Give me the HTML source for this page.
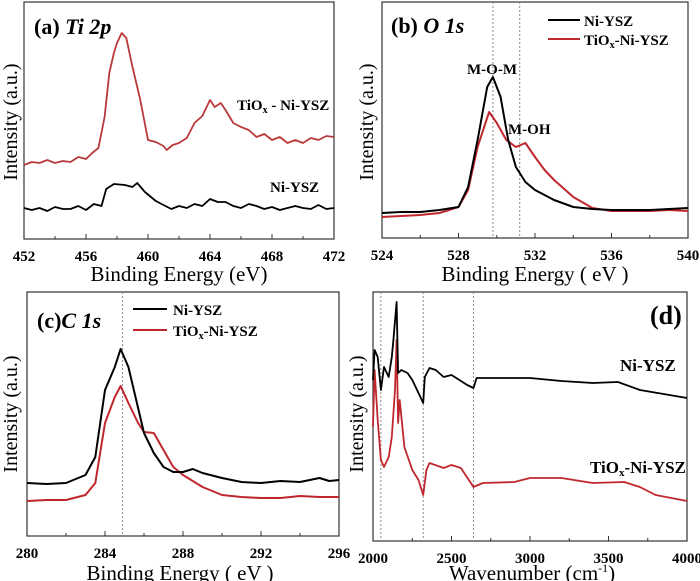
<!DOCTYPE html>
<html><head><meta charset="utf-8">
<style>
html,body{margin:0;padding:0;background:#fff;}
svg{display:block;font-family:"Liberation Serif",serif;}
.tk{font-weight:bold;font-size:15px;}
.ttl{font-size:21px;}
.yt{font-size:20px;}
.lbl{font-weight:bold;font-size:15px;}
</style></head>
<body>
<svg id="fig" width="700" height="581" viewBox="0 0 700 581"></svg>
<script>
// Panel (a) Ti 2p
const aRedX=[452,452.5,453,453.5,454,454.5,455,455.5,456,456.4,456.8,457.2,457.5,457.8,458.0,458.3,458.6,459.0,459.5,460,460.5,461,461.2,461.6,462,462.5,463,463.5,464,464.3,464.7,465,465.5,466,466.5,467,467.5,468,468.5,469,469.5,470,470.5,471,471.5,472];
const aRedY=[74,77,76,79,76,78,77,82,80,86,91,122,166,186,196,206,201,172,139,99,97,93,89,94,96,101,116,123,139,132,136,129,116,112,109,102,105,99,102,96,99,96,101,99,103,102];
const aBlkX=[452,452.5,453,453.5,454,454.5,455,455.5,456,456.5,457,457.3,457.8,458.5,459,459.3,459.8,460.5,461,461.5,462,462.5,463,463.5,464,464.5,465,465.5,466,466.5,467,467.5,468,468.5,469,469.5,470,470.5,471,471.5,472];
const aBlkY=[31,29,31,28,32,30,30,33,29,35,33,50,55,54,52,56,47,38,34,30,33,31,35,33,40,37,37,33,31,35,33,30,32,29,31,33,31,30,34,30,31];
// Panel (b) O 1s
const bBlkX=[524,525,526,527,528,528.5,529,529.5,529.8,530.2,530.6,531,531.5,532,533,534,535,536,537,538,539,540];
const bBlkY=[25,26,26,28,31,51,98,151,161,141,98,71,56,48,38,31,29,28,28,28,29,30];
const bRedX=[524,525,526,527,528,528.5,529,529.6,530,530.5,531,531.5,532,532.5,533,534,535,536,537,538,539,540];
const bRedY=[21,22,23,25,31,48,91,126,115,98,91,95,81,68,58,41,30,27,27,27,28,27];
// Panel (c) C 1s
const cBlkX=[280,281,282,283,283.5,284,284.5,284.8,285.2,285.6,286,286.5,287,287.5,288,288.5,289,290,291,292,293,294,295,295.5,296];
const cBlkY=[53,52,53,61,79,146,169,187,169,136,103,83,69,64,64,67,63,58,54,53,55,54,58,55,56];
const cRedX=[280,281,282,283,283.5,284,284.5,284.8,285.2,285.7,286,286.5,287,287.5,288,289,290,291,292,293,294,295,296];
const cRedY=[35,36,36,41,53,113,139,150,133,113,104,103,86,69,61,49,41,39,38,38,40,39,39];
// Panel (d) IR
const dBlkX=[2000,2010,2030,2050,2070,2100,2120,2130,2150,2160,2180,2220,2250,2290,2320,2330,2360,2400,2450,2500,2550,2600,2640,2660,2800,3000,3200,3400,3560,3700,3850,4000];
const dBlkY=[161,191,184,151,174,164,184,201,239,168,171,168,161,148,138,164,173,171,164,166,161,156,153,163,163,163,160,158,159,151,147,143];
const dRedX=[2000,2010,2030,2050,2070,2100,2120,2140,2150,2160,2170,2200,2250,2290,2320,2340,2360,2450,2500,2560,2640,2700,2900,3000,3200,3400,3600,3700,3800,3900,4000];
const dRedY=[114,171,121,81,74,84,104,151,201,118,141,94,71,61,46,71,78,73,76,73,54,58,59,63,63,58,59,54,46,43,40];
const aTicks=[452,456,460,464,468,472], bTicks=[524,528,532,536,540], cTicks=[280,284,288,292,296], dTicks=[2000,2500,3000,3500,4000];

const NS="http://www.w3.org/2000/svg";
const svg=document.getElementById('fig');
function mk(tag,attrs,parent){const e=document.createElementNS(NS,tag);for(const k in attrs)e.setAttribute(k,attrs[k]);(parent||svg).appendChild(e);return e;}
function txt(s,attrs,cls,parent){const e=mk('text',attrs,parent);if(cls)e.setAttribute('class',cls);e.innerHTML=s;return e;}

function panel(id,L,R,T,B,x0,x1,ticks,minorStep,yMax){
  const g=mk('g',{});
  
  
  const sx=v=>L+(v-x0)/(x1-x0)*(R-L);
  const sy=v=>B-v/yMax*(B-T);
  const fr=mk('rect',{x:L,y:T,width:R-L,height:B-T,fill:'none',stroke:'#333','stroke-width':1.2},g);
  
  
  for(let v=x0;v<=x1+1e-9;v+=minorStep){
    const major=ticks.some(t=>Math.abs(t-v)<1e-6);
    mk('line',{x1:sx(v),x2:sx(v),y1:B,y2:B-(major?5:3),stroke:'#333','stroke-width':1},g);
  }
  ticks.forEach(t=>{
    const e=txt(String(t),{x:sx(t),y:B+22,'text-anchor':'middle'},'tk',g);
    
    
  });
  return {g,sx,sy};
}
function line(p,xs,ys,color,name,w){
  const d=xs.map((x,i)=>(i?'L':'M')+p.sx(x).toFixed(1)+' '+p.sy(ys[i]).toFixed(1)).join(' ');
  const e=mk('path',{d:d,fill:'none',stroke:color,'stroke-width':w||2,'stroke-linejoin':'round'},p.g);
  
  
}
function vdash(p,v,T,B,name){
  const e=mk('line',{x1:p.sx(v),x2:p.sx(v),y1:T,y2:B,stroke:'#888','stroke-width':1,'stroke-dasharray':'2,2'},p.g);
  
  
}
function ytitle(x,y,name){
  const e=txt('Intensity (a.u.)',{x:x,y:y,transform:'rotate(-90 '+x+' '+y+')','text-anchor':'middle'},'yt');
  
  
}
function label(s,x,y,name,extra,size){
  const e=txt(s,Object.assign({x:x,y:y},extra||{}),'lbl');
  if(size)e.style.fontSize=size+'px';
  
  
  return e;
}
const RED='#c0272d', BRED='#b93a3a';

// (a)
const pa=panel('a',24,334,2,239,452,472,aTicks,2,237);
line(pa,aRedX,aRedY,BRED,'tiox-ni-ysz-line-a',1.8);
line(pa,aBlkX,aBlkY,'#000','ni-ysz-line-a',1.8);
ytitle(17,122,'y-axis-title-a');
let t=txt('Binding Energy (eV)',{x:179,y:281,'text-anchor':'middle'},'ttl');
label('(a) <tspan font-style="italic">Ti 2p</tspan>',34,34,'panel-title-a',{},22);
label('TiO<tspan font-size="10" dy="3">x</tspan><tspan dy="-3"> - Ni-YSZ</tspan>',237,110,'series-label-tiox-a');
label('Ni-YSZ',270,192,'series-label-ni-ysz-a');

// (b)
const pb=panel('b',382,688,2,238,524,540,bTicks,2,236);
vdash(pb,529.8,2,238,'ref-line-m-o-m');
vdash(pb,531.2,2,238,'ref-line-m-oh');
line(pb,bRedX,bRedY,RED,'tiox-ni-ysz-line-b');
line(pb,bBlkX,bBlkY,'#000','ni-ysz-line-b');
ytitle(373,122,'y-axis-title-b');
t=txt('Binding Energy ( eV )',{x:535,y:281,'text-anchor':'middle'},'ttl');
label('(b) <tspan font-style="italic">O 1s</tspan>',391,33,'panel-title-b',{},22);
label('M-O-M',492,74,'peak-label-m-o-m',{'text-anchor':'middle'});
label('M-OH',508,134,'peak-label-m-oh');
let lg=mk('line',{x1:548,x2:580,y1:20,y2:20,stroke:'#000','stroke-width':2});
lg=mk('line',{x1:548,x2:580,y1:39,y2:39,stroke:RED,'stroke-width':2});
label('Ni-YSZ',584,26,'legend-entry-ni-ysz-b');
label('TiO<tspan font-size="10" dy="3">x</tspan><tspan dy="-3">-Ni-YSZ</tspan>',584,45,'legend-entry-tiox-b');

// (c)
const pc=panel('c',27,339,292,536,280,296,cTicks,2,244);
vdash(pc,284.9,292,536,'ref-line-c');
line(pc,cRedX,cRedY,RED,'tiox-ni-ysz-line-c');
line(pc,cBlkX,cBlkY,'#000','ni-ysz-line-c');
ytitle(17,414,'y-axis-title-c');
t=txt('Binding Energy ( eV )',{x:180,y:580,'text-anchor':'middle'},'ttl');
label('(c)<tspan font-style="italic">C 1s</tspan>',37,328,'panel-title-c',{},22);
lg=mk('line',{x1:133,x2:167,y1:309,y2:309,stroke:'#000','stroke-width':2});
lg=mk('line',{x1:133,x2:167,y1:330,y2:330,stroke:RED,'stroke-width':2});
label('Ni-YSZ',173,315,'legend-entry-ni-ysz-c');
label('TiO<tspan font-size="10" dy="3">x</tspan><tspan dy="-3">-Ni-YSZ</tspan>',173,336,'legend-entry-tiox-c');

// (d)
const pd=panel('d',373,687,292,541,2000,4000,dTicks,250,249);
vdash(pd,2050,292,541,'ref-line-d-1');
vdash(pd,2320,292,541,'ref-line-d-2');
vdash(pd,2640,292,541,'ref-line-d-3');
line(pd,dRedX,dRedY,RED,'tiox-ni-ysz-line-d',1.8);
line(pd,dBlkX,dBlkY,'#000','ni-ysz-line-d',1.8);
ytitle(363,414,'y-axis-title-d');
t=txt('Wavenumber (cm<tspan font-size="12" dy="-8">-1</tspan><tspan dy="8">)</tspan>',{x:532,y:580,'text-anchor':'middle'},'ttl');
label('(d)',650,324,'panel-title-d',{},26);
label('Ni-YSZ',620,371,'series-label-ni-ysz-d',{},17);
label('TiO<tspan font-size="11" dy="3">x</tspan><tspan dy="-3">-Ni-YSZ</tspan>',590,473,'series-label-tiox-d',{},17);
</script>
</body></html>
